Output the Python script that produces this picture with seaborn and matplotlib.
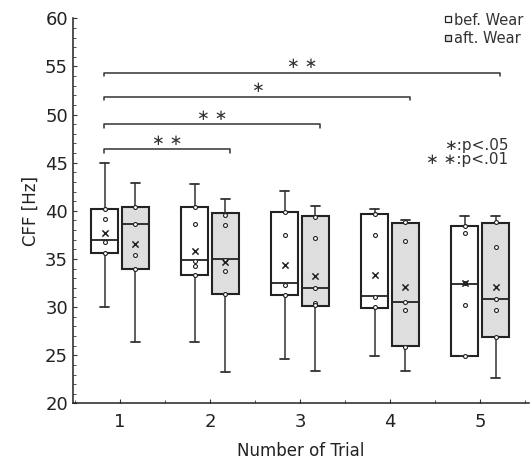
import numpy as np
import pandas as pd
import matplotlib
matplotlib.use("Agg")
import matplotlib.pyplot as plt
from matplotlib.lines import Line2D
from matplotlib.ticker import MultipleLocator
import seaborn as sns

# values (CFF in Hz)
trials = [1, 2, 3, 4, 5]

bef_whishi = [45.0, 42.75, 42.1, 40.2, 39.45]
bef_q3 = [40.2, 40.45, 39.9, 39.7, 38.4]
bef_med = [37.0, 34.85, 32.5, 31.2, 32.4]
bef_q1 = [35.6, 33.3, 31.25, 29.95, 24.95]
bef_whislo = [30.0, 26.35, 24.6, 24.9, 24.95]
bef_mean = [37.65, 35.8, 34.35, 33.35, 32.55]
bef_points = [[40.2, 39.15, 36.8, 35.6],
              [40.45, 38.65, 34.75, 34.3, 33.3],
              [39.85, 37.5, 32.3, 31.3],
              [39.65, 37.5, 31.1, 30.0],
              [38.4, 37.7, 32.5, 30.2, 24.95]]

aft_whishi = [42.85, 41.2, 40.55, 39.05, 39.45]
aft_q3 = [40.45, 39.75, 39.45, 38.75, 38.75]
aft_med = [38.65, 35.0, 31.95, 30.55, 30.85]
aft_q1 = [34.0, 31.35, 30.1, 26.0, 26.9]
aft_whislo = [26.4, 23.3, 23.4, 23.4, 22.6]
aft_mean = [36.55, 34.7, 33.25, 32.05, 32.1]
aft_points = [[40.45, 38.65, 35.4, 34.0],
              [39.6, 38.55, 34.9, 33.8, 31.35],
              [39.4, 37.15, 32.0, 30.4, 30.2],
              [38.8, 36.9, 30.55, 29.65, 25.9],
              [38.8, 36.25, 30.85, 29.65, 26.9]]

# significance brackets: from trial 1 (bef) to trial N (aft)
sig_end = [2, 3, 4, 5]
sig_label = ["\u2217 \u2217", "\u2217 \u2217", "\u2217", "\u2217 \u2217"]
sig_y = [46.4, 49.0, 51.85, 54.35]

sns.set_style("ticks")
plt.rcParams["font.family"] = ["DejaVu Sans"]

fig = plt.figure(figsize=(5.32, 4.68), dpi=100)
ax = fig.add_axes([0.137, 0.138, 0.857, 0.823])

off = 0.17
width = 0.30


def make_stats(lo, q1, med, q3, hi):
    return [dict(whislo=a, q1=b, med=c, q3=d, whishi=e, fliers=[])
            for a, b, c, d, e in zip(lo, q1, med, q3, hi)]


pos = np.array(trials, dtype=float)
for stats, shift, face in [
    (make_stats(bef_whislo, bef_q1, bef_med, bef_q3, bef_whishi), -off, "white"),
    (make_stats(aft_whislo, aft_q1, aft_med, aft_q3, aft_whishi), off, "#dedede"),
]:
    ax.bxp(stats, positions=pos + shift, widths=width, patch_artist=True,
           showfliers=False, manage_ticks=False, capwidths=0.1,
           boxprops=dict(facecolor=face, edgecolor="#222222", linewidth=1.5),
           medianprops=dict(color="#222222", linewidth=1.3),
           whiskerprops=dict(color="#333333", linewidth=1.1),
           capprops=dict(color="#333333", linewidth=1.3))

# inner points and means
rows = []
for t, pts in zip(trials, bef_points):
    rows += [dict(x=t - off, y=v) for v in pts]
for t, pts in zip(trials, aft_points):
    rows += [dict(x=t + off, y=v) for v in pts]
pts_df = pd.DataFrame(rows)
sns.scatterplot(data=pts_df, x="x", y="y", ax=ax, marker="o", s=8,
                facecolor="white", edgecolor="#222222", linewidth=0.8, zorder=5)

mean_df = pd.DataFrame({
    "x": list(pos - off) + list(pos + off),
    "y": bef_mean + aft_mean,
})
sns.scatterplot(data=mean_df, x="x", y="y", ax=ax, marker="x", s=20,
                color="#222222", linewidth=1.1, zorder=5)

# significance brackets
x0 = 1 - 0.18
for end, lab, y in zip(sig_end, sig_label, sig_y):
    x1 = end + 0.22
    ax.plot([x0, x0, x1, x1], [y - 0.35, y, y, y - 0.35], color="#333333", lw=1.1)
    ax.text((x0 + x1) / 2, y + 0.15, lab, ha="center", va="bottom", fontsize=11,
            color="#333333")

ax.text(5.31, 46.8, "\u2217:p<.05", ha="right", va="center", fontsize=11, color="#333333")
ax.text(5.31, 45.3, "\u2217 \u2217:p<.01", ha="right", va="center", fontsize=11, color="#333333")

handles = [
    Line2D([], [], ls="", marker="s", ms=5, mfc="white", mec="#222222", mew=0.9, label="bef. Wear"),
    Line2D([], [], ls="", marker="s", ms=5, mfc="#dedede", mec="#222222", mew=0.9, label="aft. Wear"),
]
leg = ax.legend(handles=handles, loc="upper right", bbox_to_anchor=(1.0, 1.03), frameon=False,
                fontsize=10.5, handlelength=0.5, handletextpad=0.15, borderaxespad=0,
                labelspacing=0.25)
for txt in leg.get_texts():
    txt.set_color("#333333")

ax.set_xlim(0.475, 5.54)
ax.set_ylim(20, 60)
ax.set_xticks(trials)
ax.set_xticklabels([str(t) for t in trials])
ax.xaxis.set_minor_locator(MultipleLocator(0.5))
ax.yaxis.set_major_locator(MultipleLocator(5))
ax.yaxis.set_minor_locator(MultipleLocator(1))
ax.tick_params(axis="both", which="both", direction="in", color="#333333")
ax.tick_params(axis="both", which="major", length=3, labelsize=13, labelcolor="#222222")
ax.tick_params(axis="x", which="major", pad=7)
ax.tick_params(axis="both", which="minor", length=2)
ax.set_xlabel("Number of Trial", fontsize=12, color="#222222", labelpad=8)
ax.set_ylabel("CFF [Hz]", fontsize=12, color="#222222", labelpad=4)
sns.despine(ax=ax)
for s in ["left", "bottom"]:
    ax.spines[s].set_color("#222222")
    ax.spines[s].set_linewidth(1.1)

fig.savefig("out.png", dpi=100)
